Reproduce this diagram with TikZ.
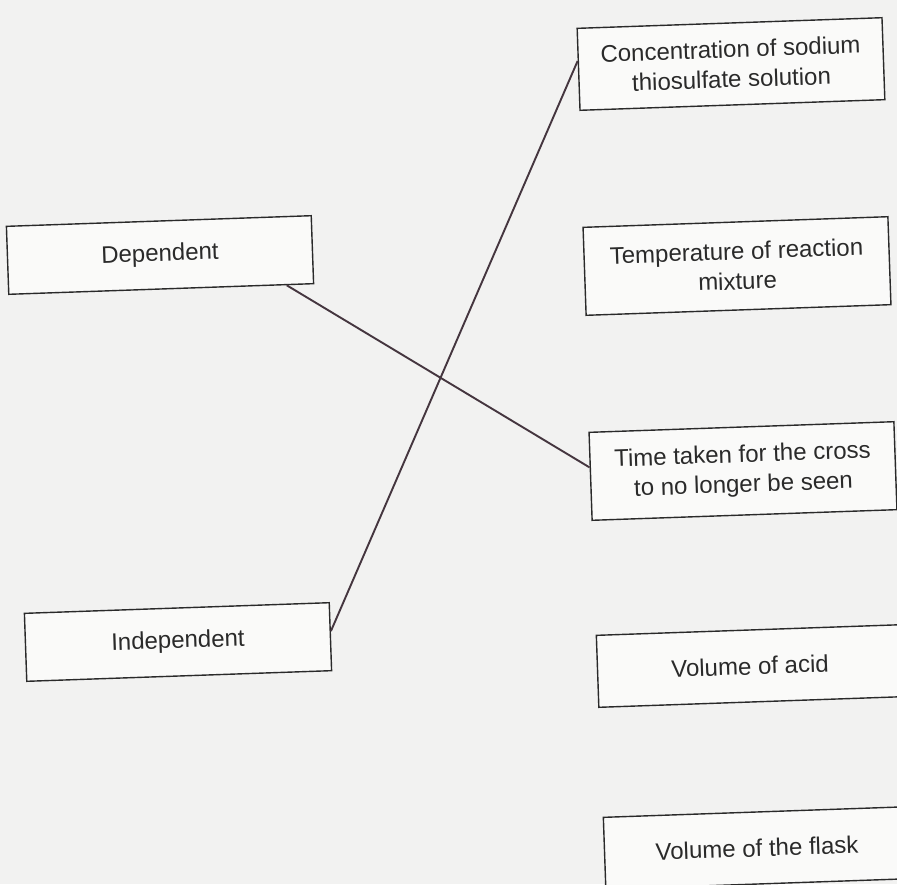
\documentclass[tikz,border=0pt]{standalone}
\usepackage{fontspec}
\setmainfont{Liberation Sans}
\usetikzlibrary{calc}
\definecolor{paper}{HTML}{F2F2F1}
\definecolor{ink}{HTML}{2A2A2A}
\definecolor{wire}{HTML}{45363F}
\tikzset{
  answerbox/.style={draw=ink, line width=1.4pt, fill=white!60!paper, rotate=2,
    minimum width=305pt, minimum height=#1, align=center, inner sep=0pt,
    font=\fontsize{24}{30}\selectfont, text=ink},
  answerbox/.default=72pt,
  matchline/.style={draw=wire, line width=1.9pt}
}
\begin{document}
\begin{tikzpicture}[x=1pt,y=-1pt]
\useasboundingbox (0,0) rectangle (897,884);
\fill[paper] (0,0) rectangle (897,884);
\node[answerbox=68pt] (dep) at (160,255) {Dependent};
\node[answerbox=68pt] (ind) at (178,642) {Independent};
\node[answerbox=82pt] (conc) at (731,64) {Concentration of sodium\\thiosulfate solution};
\node[answerbox=88pt] (temp) at (737,266) {Temperature of reaction\\mixture};
\node[answerbox=88pt] (time) at (743,471) {Time taken for the cross\\to no longer be seen};
\node[answerbox=72pt] (acid) at (750,666) {Volume of acid};
\node[answerbox=72pt] (flask) at (757,848) {Volume of the flask};
\draw[matchline] ($(dep.south west)!0.91!(dep.south east)$) -- ($(time.north west)!0.4!(time.south west)$);
\draw[matchline] ($(ind.north east)!0.42!(ind.south east)$) -- ($(conc.north west)!0.4!(conc.south west)$);
\end{tikzpicture}
\end{document}
